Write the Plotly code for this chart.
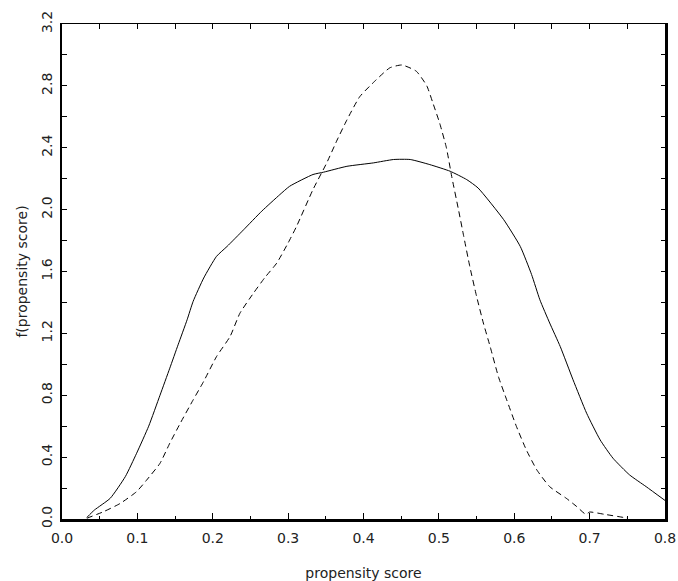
import plotly.graph_objects as go

# Solid curve
solid_x = [0.033, 0.043, 0.064, 0.084, 0.099, 0.115, 0.130, 0.143, 0.154, 0.166, 0.174, 0.188,
           0.205, 0.219, 0.241, 0.265, 0.289, 0.302, 0.333, 0.347, 0.378, 0.413, 0.440, 0.462,
           0.488, 0.515, 0.537, 0.552, 0.586, 0.608, 0.623, 0.634, 0.647, 0.661, 0.678, 0.696,
           0.714, 0.731, 0.753, 0.775, 0.800]
solid_y = [0.01, 0.058, 0.134, 0.274, 0.425, 0.60, 0.80, 0.975, 1.126, 1.288, 1.407, 1.558,
           1.698, 1.762, 1.87, 1.99, 2.097, 2.151, 2.227, 2.242, 2.28, 2.302, 2.324, 2.324,
           2.291, 2.248, 2.194, 2.14, 1.935, 1.762, 1.58, 1.417, 1.267, 1.115, 0.90, 0.684,
           0.511, 0.393, 0.285, 0.209, 0.12]

# Dashed curve
dash_x = [0.033, 0.055, 0.077, 0.099, 0.112, 0.130, 0.143, 0.157, 0.174, 0.188, 0.205, 0.223,
          0.236, 0.254, 0.269, 0.285, 0.300, 0.311, 0.333, 0.351, 0.365, 0.378, 0.395, 0.417,
          0.435, 0.451, 0.470, 0.484, 0.492, 0.501, 0.510, 0.517, 0.526, 0.533, 0.541, 0.550,
          0.559, 0.568, 0.579, 0.590, 0.603, 0.616, 0.630, 0.647, 0.669, 0.683, 0.695, 0.700,
          0.720, 0.745, 0.750]
dash_y = [0.005, 0.047, 0.10, 0.177, 0.25, 0.36, 0.49, 0.62, 0.77, 0.89, 1.05, 1.18,
          1.33, 1.46, 1.56, 1.655, 1.785, 1.89, 2.13, 2.30, 2.45, 2.58, 2.73, 2.84,
          2.917, 2.935, 2.895, 2.80, 2.69, 2.56, 2.40, 2.215, 2.0, 1.827, 1.633, 1.44,
          1.267, 1.115, 0.92, 0.77, 0.597, 0.447, 0.317, 0.209, 0.134, 0.08, 0.03, 0.045,
          0.03, 0.01, 0.005]

x_title = "propensity score"
y_title = "f(propensity score)"

FONT = dict(family="DejaVu Sans", size=14, color="#222222")

fig = go.Figure()
fig.add_trace(go.Scatter(x=solid_x, y=solid_y, mode="lines",
                         line=dict(color="black", width=1, shape="spline", smoothing=0.5),
                         showlegend=False))
# dashed curve lives on the mirrored (top/right) axes, which share the same ranges
fig.add_trace(go.Scatter(x=dash_x, y=dash_y, mode="lines", xaxis="x2", yaxis="y2",
                         line=dict(color="black", width=1, dash="6px,4px",
                                   shape="spline", smoothing=0.5),
                         showlegend=False))

fig.update_layout(
    width=678, height=581,
    margin=dict(l=62, r=13, t=24, b=62),
    paper_bgcolor="white", plot_bgcolor="white",
    font=FONT,
    xaxis=dict(range=[0, 0.8], dtick=0.1, tick0=0, tickformat=".1f",
               showline=True, linecolor="black", linewidth=2.5,
               ticks="inside", ticklen=6, tickwidth=1.2, tickcolor="black",
               minor=dict(dtick=0.05, ticks="inside", ticklen=3, tickwidth=1.2, tickcolor="black"),
               showgrid=False, zeroline=False, automargin=False,
               title=dict(text=x_title, standoff=24, font=FONT),
               ticklabelstandoff=4),
    xaxis2=dict(range=[0, 0.8], overlaying="x", side="top", anchor="y2",
                showline=True, linecolor="black", linewidth=1.2,
                ticks="inside", dtick=0.05, tick0=0, ticklen=5, tickwidth=1.2, tickcolor="black",
                showticklabels=False, showgrid=False, zeroline=False, automargin=False),
    yaxis=dict(range=[0, 3.2], dtick=0.4, tick0=0, tickformat=".1f", tickangle=-90,
               showline=True, linecolor="black", linewidth=1.5,
               ticks="inside", ticklen=5, tickwidth=1.2, tickcolor="black",
               minor=dict(dtick=0.2, ticks="inside", ticklen=5, tickwidth=1.2, tickcolor="black"),
               showgrid=False, zeroline=False, automargin=False,
               title=dict(text=y_title, standoff=8, font=FONT),
               ticklabelstandoff=3),
    yaxis2=dict(range=[0, 3.2], overlaying="y", side="right", anchor="x2",
                showline=True, linecolor="black", linewidth=2.5,
                ticks="inside", dtick=0.2, tick0=0, ticklen=4, tickwidth=1.2, tickcolor="black",
                showticklabels=False, showgrid=False, zeroline=False, automargin=False),
)

fig.write_html("out.html", config={"displayModeBar": False},
               post_script="document.body.style.margin='0';")
